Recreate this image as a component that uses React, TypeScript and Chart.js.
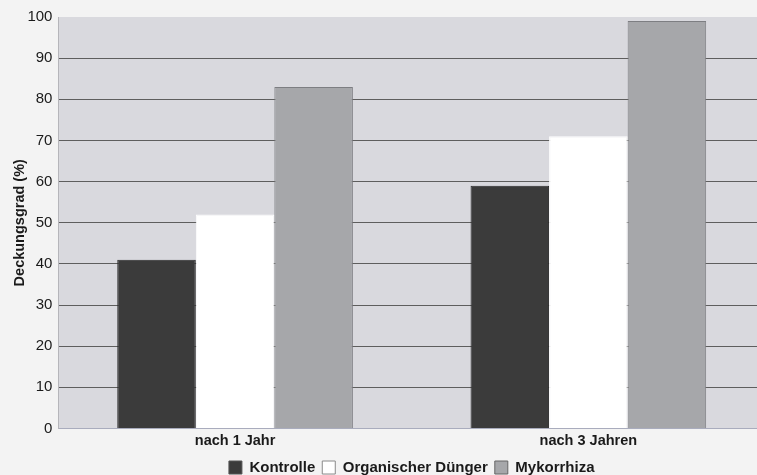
import React, { useEffect, useRef } from "react";
import { Chart, registerables } from "chart.js";

Chart.register(...registerables);

const categories = ["nach 1 Jahr", "nach 3 Jahren"];
const kontrolle = [41, 59];
const organisch = [52, 71];
const mykorrhiza = [83, 99];
const seriesNames = ["Kontrolle", "Organischer Dünger", "Mykorrhiza"];
const yTicks = [0, 10, 20, 30, 40, 50, 60, 70, 80, 90, 100];

const fills = ["#3b3b3b", "#ffffff", "#a6a7aa"];
const strokes = ["#2a2a2a", "#ffffff", "#7d7e82"];
const legendStrokes = ["#555555", "#8a8a8a", "#666666"];

const bgPlugin = {
  id: "plotBg",
  beforeDraw(chart: any) {
    const { ctx, chartArea } = chart;
    ctx.save();
    ctx.fillStyle = "#f3f3f3";
    ctx.fillRect(0, 0, chart.width, chart.height);
    ctx.fillStyle = "#d9d9de";
    ctx.fillRect(chartArea.left, chartArea.top, chartArea.right - chartArea.left, chartArea.bottom - chartArea.top);
    ctx.restore();
  },
};

export default function App() {
  const ref = useRef<HTMLCanvasElement | null>(null);
  useEffect(() => {
    document.body.style.margin = "0";
    const font = "'Liberation Sans', Arial, sans-serif";
    const chart = new Chart(ref.current as HTMLCanvasElement, {
      type: "bar",
      data: {
        labels: categories,
        datasets: [
          { label: seriesNames[0], data: kontrolle, backgroundColor: fills[0], borderColor: strokes[0], borderWidth: 1 },
          { label: seriesNames[1], data: organisch, backgroundColor: fills[1], borderColor: strokes[1], borderWidth: 1 },
          { label: seriesNames[2], data: mykorrhiza, backgroundColor: fills[2], borderColor: strokes[2], borderWidth: 1 },
        ],
      },
      options: {
        responsive: false,
        animation: false,
        layout: { padding: { left: 11, right: 3, top: 17, bottom: -10 } },
        datasets: { bar: { barPercentage: 1, categoryPercentage: 0.667 } } as any,
        scales: {
          x: {
            grid: { display: false, drawTicks: false },
            border: { display: true, color: "#a9acbd" },
            ticks: { color: "#1a1a1a", font: { family: font, size: 14.5, weight: "bold", lineHeight: 1.0 }, padding: 5 },
          },
          y: {
            min: 0,
            max: 100,
            afterBuildTicks(axis: any) {
              axis.ticks = yTicks.map((v) => ({ value: v }));
            },
            grid: {
              color: (c: any) => (c.tick && (c.tick.value === 0 || c.tick.value === 100) ? "rgba(0,0,0,0)" : "#5e5e5e"),
              drawTicks: false,
              lineWidth: 1,
            },
            border: { display: true, color: "#b5b5ba" },
            ticks: { color: "#1a1a1a", font: { family: font, size: 15 }, padding: 6 },
            title: {
              display: true,
              text: "Deckungsgrad (%)",
              color: "#1a1a1a",
              font: { family: font, size: 14.5, weight: "bold" },
              padding: { top: 0, bottom: -7 },
            },
          },
        },
        plugins: {
          legend: {
            position: "bottom",
            fullSize: false,
            labels: {
              color: "#1a1a1a",
              font: { family: font, size: 15, weight: "bold" },
              boxWidth: 13,
              boxHeight: 13,
              padding: 7,
              generateLabels: (ch: any) =>
                ch.data.datasets.map((ds: any, i: number) => ({
                  text: ds.label,
                  fillStyle: fills[i],
                  strokeStyle: legendStrokes[i],
                  lineWidth: 1,
                  fontColor: "#1a1a1a",
                  hidden: false,
                  datasetIndex: i,
                })),
            },
          },
          tooltip: { enabled: false },
        },
      },
      plugins: [bgPlugin],
    });
    return () => chart.destroy();
  }, []);
  return (
    <div style={{ position: "absolute", left: 0, top: 0, width: 757, height: 475, overflow: "hidden" }}>
      <canvas ref={ref} width={768} height={475} style={{ display: "block" }} />
    </div>
  );
}
